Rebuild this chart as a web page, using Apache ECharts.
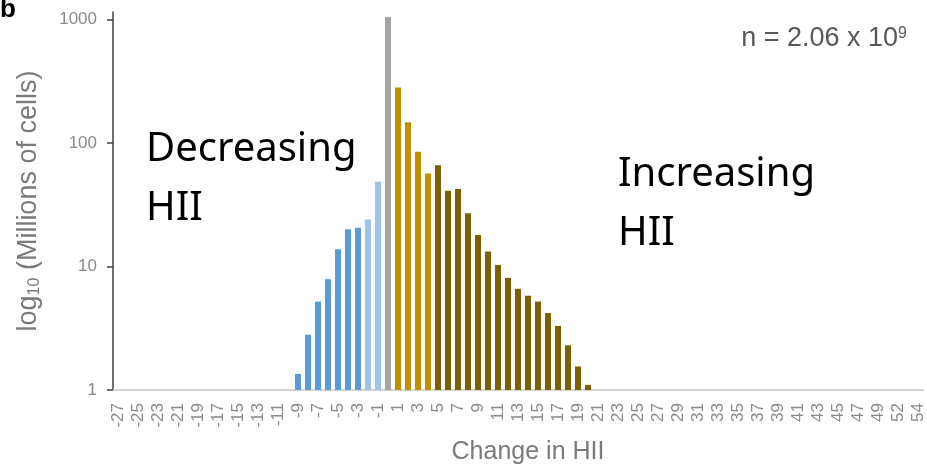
<!DOCTYPE html>
<html>
<head>
<meta charset="utf-8">
<style>
  html, body { margin: 0; padding: 0; background: #fff; }
  #chart { width: 927px; height: 467px; }
</style>
<script src="https://cdn.jsdelivr.net/npm/echarts@6/dist/echarts.min.js"></script>
</head>
<body>
<div id="chart"></div>
<script>
// Change in HII per cell (categories; 51 does not occur)
const categories = [
  -27, -26, -25, -24, -23, -22, -21, -20, -19, -18, -17, -16, -15, -14,
  -13, -12, -11, -10, -9, -8, -7, -6, -5, -4, -3, -2, -1, 0,
  1, 2, 3, 4, 5, 6, 7, 8, 9, 10, 11, 12, 13, 14, 15, 16, 17, 18, 19, 20,
  21, 22, 23, 24, 25, 26, 27, 28, 29, 30, 31, 32, 33, 34, 35, 36, 37, 38,
  39, 40, 41, 42, 43, 44, 45, 46, 47, 48, 49, 50, 52, 53, 54
];

// Millions of cells for each observed change (others are empty)
const changes = [-9, -8, -7, -6, -5, -4, -3, -2, -1, 0,
  1, 2, 3, 4, 5, 6, 7, 8, 9, 10, 11, 12, 13, 14, 15, 16, 17, 18, 19, 20];
const cells = [1.35, 2.8, 5.2, 7.9, 13.8, 20, 20.6, 24, 48.6, 1050,
  282, 147, 85, 56.5, 66, 41, 42.4, 27, 18, 13.2, 10.3, 8.1, 6.6, 5.8, 5.2, 4.2, 3.3, 2.3, 1.55, 1.1];

const yTicks = [1, 10, 100, 1000];

function barColor(c) {
  if (c <= -3) return '#5b9bd5';
  if (c < 0) return '#9dc3e6';
  if (c === 0) return '#a5a5a5';
  if (c <= 4) return '#bf9000';
  return '#7f6000';
}

const lookup = {};
changes.forEach((c, i) => { lookup[c] = cells[i]; });
const seriesData = categories.map(c =>
  lookup[c] === undefined ? '-' : { value: lookup[c], itemStyle: { color: barColor(c) } }
);

const chart = echarts.init(document.getElementById('chart'), null, { renderer: 'canvas' });
const font = 'Liberation Sans, Arial, sans-serif';

chart.setOption({
  animation: false,
  grid: { left: 113, right: 4, top: 12, bottom: 77, containLabel: false, outerBoundsMode: 'none' },
  xAxis: {
    type: 'category',
    data: categories.map(String),
    boundaryGap: true,
    axisLine: { lineStyle: { color: '#d4d4d4', width: 2 } },
    axisTick: { show: false },
    axisLabel: {
      interval: 1, rotate: 90, margin: 13,
      fontFamily: font, fontSize: 17, color: '#8a8a8a', hideOverlap: false
    },
    name: 'Change in HII',
    nameLocation: 'middle',
    nameGap: 50,
    nameTextStyle: { fontFamily: font, fontSize: 25, color: '#7a7a7a', padding: [0, 0, 0, 20] },
    splitLine: { show: false }
  },
  yAxis: {
    type: 'log',
    logBase: 10,
    min: 1,
    max: 1150,
    axisLine: { show: true, lineStyle: { color: '#404040', width: 1.5 } },
    axisTick: { show: true, length: 6, customValues: yTicks, lineStyle: { color: '#404040', width: 1.5 } },
    axisLabel: {
      customValues: yTicks, margin: 16,
      fontFamily: font, fontSize: 17, color: '#8a8a8a',
      formatter: v => String(Math.round(v))
    },
    splitLine: { show: false },
    name: 'log{sub|10} (Millions of cells)',
    nameLocation: 'middle',
    nameGap: 70,
    nameTextStyle: {
      fontFamily: font, fontSize: 27, color: '#7a7a7a',
      rich: { sub: { fontFamily: font, fontSize: 16, color: '#7a7a7a', verticalAlign: 'bottom', padding: [13, 0, 0, 0] } }
    }
  },
  series: [{
    type: 'bar',
    data: seriesData,
    barWidth: 6,
    itemStyle: { borderWidth: 0 }
  }],
  graphic: [
    { type: 'text', left: 0, top: -3, style: { text: 'b', font: 'bold 26px ' + font, fill: '#000' } },
    { type: 'text', x: 146, y: 150, style: { text: 'Decreasing', font: '40px "Noto Sans"', fill: '#000', verticalAlign: 'middle' } },
    { type: 'text', x: 146, y: 209, style: { text: 'HII', font: '40px "Noto Sans"', fill: '#000', verticalAlign: 'middle' } },
    { type: 'text', x: 618, y: 175, style: { text: 'Increasing', font: '40px "Noto Sans"', fill: '#000', verticalAlign: 'middle' } },
    { type: 'text', x: 618, y: 234, style: { text: 'HII', font: '40px "Noto Sans"', fill: '#000', verticalAlign: 'middle' } },
    {
      type: 'text', x: 907, y: 39,
      style: {
        text: 'n = 2.06 x 10{sup|9}',
        font: '27px ' + font, fill: '#595959', align: 'right', verticalAlign: 'middle',
        rich: { sup: { fontSize: 16, fontFamily: font, fill: '#595959', verticalAlign: 'top', padding: [0, 0, 11, 0] } }
      }
    }
  ]
});
</script>
</body>
</html>
